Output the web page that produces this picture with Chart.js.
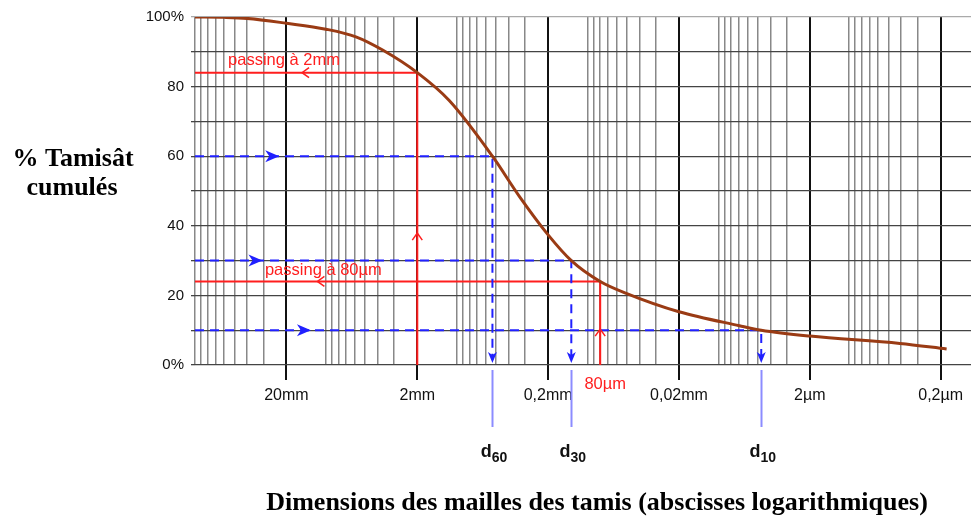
<!DOCTYPE html>
<html>
<head>
<meta charset="utf-8">
<script src="https://cdn.jsdelivr.net/npm/chart.js@4.4.1/dist/chart.umd.min.js"></script>
<style>
  html, body { margin: 0; padding: 0; background: #fff; overflow: hidden; }
  canvas { display: block; }
</style>
</head>
<body>
<canvas id="chart" width="971" height="523"></canvas>
<script>
// grain size curve - sieve sizes in mm, x axis is log and reversed
const sieveSizes = [100, 60, 40, 20, 10, 5.89, 3.68, 2, 1.14, 0.533, 0.331, 0.2, 0.133, 0.08, 0.0506, 0.02, 0.0069, 0.0047, 0.002, 0.00041, 0.00018];
const passingPct = [100, 99.9, 99.6, 98.2, 96.5, 94.3, 90.5, 84, 76, 60, 48.4, 37.4, 30, 24, 20.6, 15.3, 11.3, 10, 8.3, 6.2, 4.6];

const X_MAX = 100;
const X_MIN = 0.0001172;

const xTickValues = [20, 2, 0.2, 0.02, 0.002, 0.0002];
const xTickLabels = ['20mm', '2mm', '0,2mm', '0,02mm', '2µm', '0,2µm'];
const yTickValues = [0, 20, 40, 60, 80, 100];
const yTickLabels = ['0%', '20', '40', '60', '80', '100%'];

// d60 / d30 / d10 construction (blue)
const dNames = ['60', '30', '10'];
const dPercents = [60, 30, 10];
const dSizes = [0.533, 0.133, 0.0047];
const dArrowSizes = [22.7, 30.5, 13.0];

// passing at 2mm / 80µm construction (red)
const passTexts = ['passing à 2mm', 'passing à 80µm'];
const passSizes = [2, 0.08];
const passPercents = [84, 24];
const passArrowSizes = [15.2, 11.6];
const passUpArrowPct = [37.9, 10.3];
const passTextAt = [[55.9, 87.6], [29.2, 27.3]];
const passAxisLabels = [null, '80µm'];

const SANS = "'Liberation Sans', Arial, sans-serif";
const SERIF = "'Liberation Serif', 'Times New Roman', serif";
const RED = '#ff1e1e';
const BLUE = '#2020ff';
const LIGHT_BLUE = '#8c8cff';

// grid lines at 1..9 x 10^k inside the range
const gridValues = [];
for (let e = -4; e <= 2; e++) {
  for (let m = 1; m <= 9; m++) {
    const v = +(m * Math.pow(10, e)).toPrecision(6);
    if (v >= X_MIN && v <= X_MAX) gridValues.push(v);
  }
}

function majorIndex(v) {
  return xTickValues.findIndex(t => Math.abs(t - v) / t < 1e-6);
}

const annotate = {
  id: 'annotate',
  afterDatasetsDraw(chart) {
    const { ctx, scales: { x, y } } = chart;
    ctx.save();

    // blue arrows
    ctx.fillStyle = BLUE;
    dSizes.forEach((d, i) => {
      const ax = x.getPixelForValue(dArrowSizes[i]);
      const ay = y.getPixelForValue(dPercents[i]);
      ctx.beginPath();
      ctx.moveTo(ax, ay);
      ctx.lineTo(ax - 14, ay - 6);
      ctx.lineTo(ax - 10, ay);
      ctx.lineTo(ax - 14, ay + 6);
      ctx.closePath();
      ctx.fill();

      const dx = x.getPixelForValue(d);
      const dy = y.getPixelForValue(0.6);
      ctx.beginPath();
      ctx.moveTo(dx, dy);
      ctx.lineTo(dx - 4.5, dy - 11);
      ctx.lineTo(dx, dy - 8);
      ctx.lineTo(dx + 4.5, dy - 11);
      ctx.closePath();
      ctx.fill();
    });

    // light blue leaders below the axis
    ctx.strokeStyle = LIGHT_BLUE;
    ctx.lineWidth = 2;
    dSizes.forEach(d => {
      const dx = Math.round(x.getPixelForValue(d)) + 0.5;
      ctx.beginPath();
      ctx.moveTo(dx, y.bottom + 5);
      ctx.lineTo(dx, y.bottom + 62);
      ctx.stroke();
    });

    // red open arrows
    ctx.strokeStyle = RED;
    ctx.lineWidth = 1.5;
    passSizes.forEach((s, i) => {
      const hx = x.getPixelForValue(passArrowSizes[i]);
      const hy = y.getPixelForValue(passPercents[i]);
      ctx.beginPath();
      ctx.moveTo(hx + 7, hy - 5);
      ctx.lineTo(hx, hy);
      ctx.lineTo(hx + 7, hy + 5);
      ctx.stroke();

      const vx = x.getPixelForValue(s);
      const vy = y.getPixelForValue(passUpArrowPct[i]);
      ctx.beginPath();
      ctx.moveTo(vx - 5, vy + 7);
      ctx.lineTo(vx, vy);
      ctx.lineTo(vx + 5, vy + 7);
      ctx.stroke();
    });
    ctx.restore();
  },
  afterDraw(chart) {
    const { ctx, scales: { x, y } } = chart;
    ctx.save();

    // red texts
    ctx.fillStyle = RED;
    ctx.font = '16.5px ' + SANS;
    ctx.textBaseline = 'middle';
    ctx.textAlign = 'left';
    passTexts.forEach((t, i) => {
      ctx.fillText(t, x.getPixelForValue(passTextAt[i][0]), y.getPixelForValue(passTextAt[i][1]));
    });
    ctx.textAlign = 'center';
    passAxisLabels.forEach((t, i) => {
      if (t) ctx.fillText(t, x.getPixelForValue(passSizes[i]) + 5, y.bottom + 19);
    });

    // d labels
    ctx.fillStyle = '#111';
    ctx.textBaseline = 'alphabetic';
    ctx.textAlign = 'left';
    dSizes.forEach((d, i) => {
      const cx = x.getPixelForValue(d) + 1.5;
      ctx.font = 'bold 18px ' + SANS;
      const w1 = ctx.measureText('d').width;
      ctx.font = 'bold 14px ' + SANS;
      const w2 = ctx.measureText(dNames[i]).width;
      const left = cx - (w1 + w2) / 2;
      ctx.font = 'bold 18px ' + SANS;
      ctx.fillText('d', left, 457);
      ctx.font = 'bold 14px ' + SANS;
      ctx.fillText(dNames[i], left + w1, 462);
    });

    // axis titles
    ctx.fillStyle = '#000';
    ctx.font = 'bold 26px ' + SERIF;
    ctx.textAlign = 'center';
    ctx.fillText('% Tamisât', 73, 166);
    ctx.fillText('cumulés', 72, 195);
    ctx.fillText('Dimensions des mailles des tamis (abscisses logarithmiques)', 597, 510);
    ctx.restore();
  }
};

const blueSets = dSizes.map((d, i) => ({
  data: [{ x: X_MAX, y: dPercents[i] }, { x: d, y: dPercents[i] }, { x: d, y: 1.5 }],
  borderColor: BLUE,
  borderWidth: 2,
  borderDash: [9, 6],
  pointRadius: 0,
  tension: 0
}));

const redSets = passSizes.map((s, i) => ({
  data: [{ x: X_MAX, y: passPercents[i] }, { x: s, y: passPercents[i] }, { x: s, y: 0 }],
  borderColor: RED,
  borderWidth: 2,
  pointRadius: 0,
  tension: 0
}));

new Chart(document.getElementById('chart'), {
  type: 'line',
  data: {
    datasets: [
      {
        label: 'courbe granulométrique',
        data: sieveSizes.map((s, i) => ({ x: s, y: passingPct[i] })),
        borderColor: '#9a3b14',
        borderWidth: 3,
        pointRadius: 0,
        cubicInterpolationMode: 'monotone'
      },
      ...blueSets,
      ...redSets
    ]
  },
  options: {
    responsive: false,
    animation: false,
    devicePixelRatio: 1,
    layout: { padding: { top: 17, right: 0, bottom: 0, left: 0 } },
    plugins: { legend: { display: false }, tooltip: { enabled: false } },
    scales: {
      x: {
        type: 'logarithmic',
        reverse: true,
        min: X_MIN,
        max: X_MAX,
        bounds: 'data',
        afterBuildTicks: scale => { scale.ticks = gridValues.map(v => ({ value: v })); },
        afterFit: scale => { scale.height = 158; },
        border: { display: false },
        grid: {
          color: c => (c.tick && majorIndex(c.tick.value) >= 0 ? '#111' : '#888'),
          lineWidth: c => (c.tick && majorIndex(c.tick.value) >= 0 ? 2 : 1.5),
          tickColor: c => (c.tick && majorIndex(c.tick.value) >= 0 ? '#111' : 'rgba(0,0,0,0)'),
          tickWidth: 2,
          tickLength: 15
        },
        ticks: {
          autoSkip: false,
          maxRotation: 0,
          padding: 6,
          color: '#111',
          font: { family: SANS, size: 16 },
          callback: v => {
            const i = majorIndex(v);
            return i >= 0 ? xTickLabels[i] : '';
          }
        }
      },
      y: {
        min: 0,
        max: 100,
        afterFit: scale => { scale.width = 195; },
        border: { display: false },
        grid: {
          color: c => (c.tick && c.tick.value === 100 ? '#aaa' : '#444'),
          lineWidth: 1.3,
          tickLength: 4
        },
        ticks: {
          stepSize: 10,
          padding: 7,
          color: '#111',
          font: { family: SANS, size: 15 },
          callback: v => {
            const i = yTickValues.indexOf(v);
            return i >= 0 ? yTickLabels[i] : '';
          }
        }
      }
    }
  },
  plugins: [annotate]
});
</script>
</body>
</html>
